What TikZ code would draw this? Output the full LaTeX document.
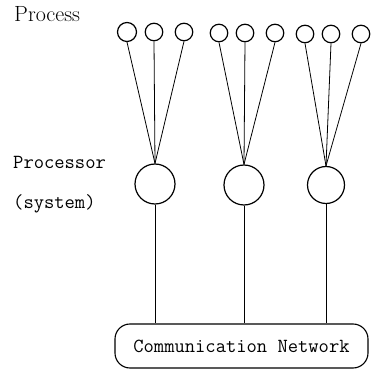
\documentclass[tikz,border=0pt]{standalone}
\usepackage{fontspec}
\begin{document}
\begin{tikzpicture}[x=1pt,y=-1pt,
  procc/.style={circle,draw,line width=1.2pt,minimum size=17.5pt,inner sep=0pt},
  cpu/.style={circle,draw,line width=1.2pt,minimum size=40pt,inner sep=0pt},
  link/.style={line width=0.8pt},
  ttl/.style={font=\ttfamily\fontsize{20}{22}\selectfont,inner sep=0pt,anchor=base west},
  netbox/.style={draw,line width=1.1pt,rounded corners=15pt,minimum width=253pt,minimum height=44pt,inner sep=0pt,font=\ttfamily\fontsize{20}{22}\selectfont}]
\useasboundingbox (0,0) rectangle (373,369);
% labels
\node[inner sep=0pt,anchor=base west,font=\rmfamily\fontsize{22}{24}\selectfont] (lproc) at (14,22) {Process};
\node[ttl] (lcpu) at (13,168) {Processor};
\node[ttl] (lsys) at (13,208) {(system)};
% process circles
\node[procc,minimum size=19pt] (a1) at (127,32) {};
\node[procc] (a2) at (154,32) {};
\node[procc] (a3) at (184,32) {};
\node[procc] (b1) at (219,33) {};
\node[procc] (b2) at (245,33) {};
\node[procc] (b3) at (275,33) {};
\node[procc] (c1) at (305,34) {};
\node[procc] (c2) at (331,34) {};
\node[procc] (c3) at (361,34) {};
% processors
\node[cpu] (p1) at (155,184) {};
\node[cpu] (p2) at (244,185) {};
\node[cpu,minimum size=37pt] (p3) at (326,185) {};
% network
\node[netbox] (net) at (241.5,346) {Communication Network};
% connectors
\foreach \s in {a1,a2,a3} \draw[link] (\s.south) -- (p1.north);
\foreach \s in {b1,b2,b3} \draw[link] (\s.south) -- (p2.north);
\foreach \s in {c1,c2,c3} \draw[link] (\s.south) -- (p3.north);
\foreach \p in {p1,p2,p3} \draw[link] (\p.south) -- (\p.south |- net.north);
\end{tikzpicture}
\end{document}
